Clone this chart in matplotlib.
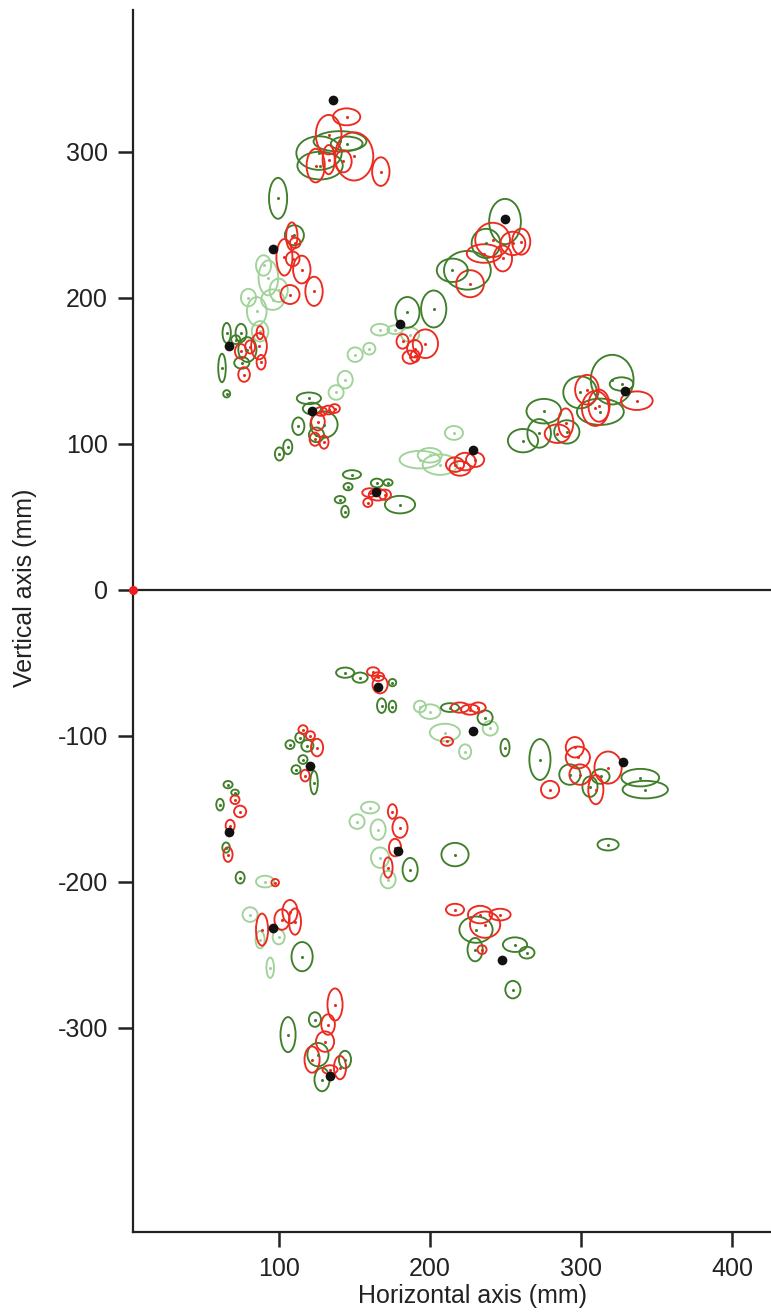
import numpy as np
import matplotlib.pyplot as plt
from matplotlib.patches import Ellipse

plt.rcParams['font.family'] = ['Liberation Sans', 'DejaVu Sans']
plt.rcParams['axes.unicode_minus'] = False

# Dark green ellipses: centre x, centre y, width, height (mm)
dg_x = [126.7, 127.4, 140.6, 145.0, 99.6, 110.4,
        65.6, 75.1, 71.6, 79.3, 75.6, 62.5, 65.6,
        113.0, 100.5, 106.0, 120.0, 122.0, 130.0, 125.0,
        249.8, 237.2, 224.9, 214.9, 185.2, 202.6,
        320.7, 326.9, 299.5, 312.9, 275.5, 272.4, 261.7, 290.7,
        148.5, 140.6, 145.9, 143.9, 165.0, 172.4, 180.3,
        144.0, 153.9, 168.1, 175.3, 175.3,
        213.4, 236.6,
        249.8, 272.9, 292.7, 339.3, 342.6, 318.0, 306.0, 313.0,
        107.5, 114.0, 111.5, 116.1, 123.4, 119.0,
        66.5, 71.1, 61.2, 65.2, 74.5,
        115.5, 106.2, 124.0, 126.0, 128.7, 143.9,
        187.0, 216.7,
        230.6, 230.0, 256.4, 264.3, 255.0]
dg_y = [299.0, 290.4, 307.0, 305.5, 268.0, 242.7,
        175.8, 175.8, 171.2, 164.4, 155.3, 151.8, 134.1,
        111.9, 92.9, 97.7, 131.0, 124.0, 113.0, 106.0,
        252.1, 237.1, 218.7, 218.7, 189.9, 192.2,
        143.8, 140.8, 135.1, 121.8, 122.2, 107.0, 102.0, 108.0,
        78.8, 61.6, 70.5, 53.4, 73.0, 73.3, 58.2,
        -56.9, -60.3, -79.5, -63.7, -80.1,
        -80.8, -87.7,
        -108.2, -116.4, -126.7, -128.8, -137.0, -174.7, -135.0, -128.0,
        -106.2, -101.4, -123.3, -116.4, -132.2, -107.0,
        -133.6, -139.0, -147.3, -176.7, -197.3,
        -251.4, -304.8, -294.5, -318.5, -335.6, -321.9,
        -191.8, -181.5,
        -232.9, -246.6, -243.2, -248.7, -274.0]
dg_w = [30, 30, 35, 21, 12, 12.6,
        5.5, 7.3, 6, 12, 10, 5, 4.6,
        8, 6, 6, 16, 12, 18, 10,
        21, 19, 31, 20.5, 16, 16.7,
        28.3, 15.6, 22.3, 31, 23, 15.6, 20, 16.7,
        12, 7, 6, 5, 8, 6, 20,
        12, 10, 6, 5, 5,
        12, 10,
        6, 14, 14, 25, 30, 14, 10, 12,
        6, 6, 6, 6, 5, 8,
        6, 5, 5, 5, 6,
        14, 10, 8, 14, 10, 8,
        10, 18,
        22, 10, 16, 10, 10]
dg_h = [23, 19, 14, 9.6, 28, 13.7,
        13.7, 12.5, 6, 17, 8, 19.5, 5,
        12, 9, 10, 8, 8, 18, 10,
        31, 20, 26.5, 16, 21, 25.3,
        34, 9.2, 21.9, 18, 16.8, 19.6, 16, 16,
        6, 5, 5, 8, 6, 4.5, 12,
        7, 7, 10, 5, 8,
        6, 10,
        12, 28, 14, 12, 12, 8, 14, 10,
        6, 7, 6, 6, 16, 8,
        5, 4, 8, 7, 8,
        20, 24, 10, 16, 16, 12,
        16, 16,
        18, 16, 10, 8, 12]

# Light green ellipses
lg_x = [85.5, 96.0, 87.7, 93.2, 100.0, 80.0, 90.0,
        150.6, 144.0, 138.0, 167.1, 177.0, 187.0, 160.0,
        193.5, 206.8, 216.0, 200.0,
        193.5, 200.1, 210.0, 223.4, 240.0,
        91.0, 81.1, 87.7, 94.4, 100.0,
        151.9, 160.5, 165.8, 167.1, 172.4]
lg_y = [190.6, 198.6, 176.9, 213.5, 205.0, 200.0, 222.0,
        160.9, 143.8, 135.0, 178.0, 178.0, 174.6, 165.0,
        89.0, 85.6, 107.3, 92.0,
        -80.1, -83.6, -97.9, -111.0, -95.0,
        -200.0, -222.6, -239.8, -259.0, -238.0,
        -158.9, -149.3, -164.4, -183.6, -198.6]
lg_w = [13, 15, 11, 13, 12, 10, 10,
        10, 10, 10, 12, 10, 12, 8,
        27, 23, 12, 16,
        8, 14, 20, 8, 10,
        12, 10, 6, 5, 8,
        10, 12, 10, 12, 10]
lg_h = [19.5, 14, 14, 24, 16, 12, 14,
        10, 12, 10, 8, 6, 10, 8,
        12, 14, 9.5, 10,
        8, 10, 12, 10, 10,
        8, 10, 12, 14, 10,
        10, 8, 14, 14, 12]

# Red ellipses
rd_x = [145.0, 133.1, 124.5, 133.1, 142.8, 149.9, 167.6,
        108.7, 110.9, 103.8, 109.3, 115.3, 123.4, 107.5,
        87.7, 74.9, 81.1, 87.0, 88.4, 77.1,
        128.0, 133.0, 137.0, 126.0, 124.0, 130.0,
        241.6, 260.5, 255.0, 236.0, 248.3, 226.7, 197.1, 187.0, 190.3, 182.0, 190.0,
        337.0, 304.0, 309.6, 312.0, 290.0, 284.4,
        216.7, 223.4, 230.0, 220.0,
        160.3, 165.6, 170.3, 159.0,
        162.5, 165.8, 167.1,
        220.0, 226.7, 232.0, 211.4,
        296.0, 298.0, 318.0, 299.4, 309.9, 279.6,
        116.1, 125.4, 117.5, 121.0,
        71.1, 74.5, 67.9, 66.5,
        97.7, 107.5, 110.8, 102.2, 89.0,
        137.3, 132.7, 130.7, 122.1, 134.0, 140.6,
        175.3, 180.3, 177.0, 172.4,
        216.7, 233.3, 236.6, 246.5, 234.6]
rd_y = [323.8, 311.6, 290.4, 294.5, 293.3, 296.7, 286.3,
        242.0, 237.5, 227.6, 226.5, 219.2, 204.3, 202.1,
        176.0, 163.2, 166.2, 166.7, 155.7, 147.3,
        122.0, 123.0, 124.0, 115.0, 103.0, 101.0,
        239.5, 238.3, 237.1, 230.2, 226.8, 209.5, 168.4, 159.2, 159.9, 170.0, 165.0,
        129.4, 136.9, 124.1, 126.0, 114.3, 106.8,
        85.6, 87.7, 89.0, 83.0,
        66.4, 65.0, 65.0, 59.6,
        -56.2, -59.6, -65.1,
        -80.8, -82.2, -80.8, -104.0,
        -108.0, -115.0, -121.9, -126.7, -137.0, -137.0,
        -95.9, -108.2, -127.4, -100.0,
        -143.9, -152.0, -161.7, -181.5,
        -200.7, -220.6, -227.4, -226.0, -232.9,
        -284.2, -297.9, -309.6, -321.9, -328.8, -327.4,
        -152.0, -163.0, -176.7, -190.4,
        -219.2, -222.6, -229.5, -222.6, -246.6]
rd_w = [18, 17, 12, 8, 11, 25.4, 11.5,
        7.5, 7, 10.6, 9, 11.5, 11.5, 12.6,
        4.6, 7.7, 6.6, 10.4, 6, 7.7,
        8, 8, 7, 9, 7, 6,
        23, 12, 16.5, 23, 12.3, 18.3, 16.7, 10, 6, 8, 10,
        21, 15.6, 17.8, 14, 10, 16.7,
        12, 14, 12, 14,
        10, 12, 8, 6,
        8, 8, 10,
        12, 12, 10, 8,
        12, 16, 18, 14, 10, 12,
        6, 8, 6, 6,
        6, 8, 6, 6,
        5, 10, 8, 10, 8,
        10, 9, 12, 10, 10, 8,
        6, 10, 8, 6,
        12, 16, 20, 14, 6]
rd_h = [11.6, 27, 23, 20, 15, 33, 19.6,
        19, 7, 25, 10, 19, 20, 13,
        9, 10, 9, 18, 10, 10,
        6, 6, 6, 12, 9, 9,
        23.5, 17.8, 16, 12.7, 17.7, 18.5, 19.6, 9, 8, 10, 12,
        12.7, 20.3, 24, 22, 19.6, 12.7,
        10, 12, 10, 10,
        6, 8, 7, 6,
        6, 6, 12,
        7, 7, 7, 6,
        14, 15, 22, 14, 20, 12,
        6, 12, 8, 6,
        6, 8, 8, 10,
        5, 16, 18, 14, 22,
        22, 14, 14, 18, 6, 16,
        10, 14, 12, 14,
        8, 12, 18, 8, 6]

# Black reference points
bk_x = [136.0, 96.5, 67.2, 122.0, 180.3, 249.8, 329.0, 228.7, 164.5,
        165.8, 228.7, 328.2, 120.8, 67.2, 96.3, 179.0, 247.8, 134.0]
bk_y = [335.2, 233.3, 167.1, 122.0, 181.8, 253.8, 135.7, 95.9, 67.1,
        -66.4, -96.6, -117.8, -120.6, -165.8, -231.5, -178.8, -253.5, -333.0]

fig = plt.figure(figsize=(7.71, 13.13), dpi=100)
ax = fig.add_axes([0.1725, 0.0617, 0.8794, 0.9307])

def draw(xs, ys, ws, hs, color):
    for x, y, w, h in zip(xs, ys, ws, hs):
        ax.add_patch(Ellipse((x, y), w, h, fill=False, edgecolor=color, lw=1.35))
    ax.plot(xs, ys, 'o', color=color, ms=2.2, mew=0)

draw(lg_x, lg_y, lg_w, lg_h, '#9fd398')
draw(dg_x, dg_y, dg_w, dg_h, '#3f7f2a')
draw(rd_x, rd_y, rd_w, rd_h, '#ec2a1f')
ax.plot(bk_x, bk_y, 'o', color='#111111', ms=7, mew=0)

x0 = 3.6
ax.set_xlim(x0, 452.3)
ax.set_ylim(-440, 397)
ax.axhline(0, color='#222222', lw=1.6)
ax.plot([x0], [0], 'o', color='#ee1c1c', ms=6.5, mew=0, clip_on=False, zorder=5)

ax.set_xticks([100, 200, 300, 400])
ax.set_yticks([-300, -200, -100, 0, 100, 200, 300])
ax.tick_params(direction='out', length=11, width=1.8, color='#222222',
               labelsize=18, labelcolor='#222222', pad=7)
for s in ['top', 'right']:
    ax.spines[s].set_visible(False)
for s in ['left', 'bottom']:
    ax.spines[s].set_linewidth(1.6)
    ax.spines[s].set_color('#222222')

fig.text(472 / 771, 1 - 1296 / 1313, 'Horizontal axis (mm)', fontsize=18,
         color='#222222', ha='center', va='center')
fig.text(25 / 771, 1 - 588 / 1313, 'Vertical axis (mm)', fontsize=18,
         color='#222222', ha='center', va='center', rotation=90)

plt.savefig('out.png', dpi=100)
